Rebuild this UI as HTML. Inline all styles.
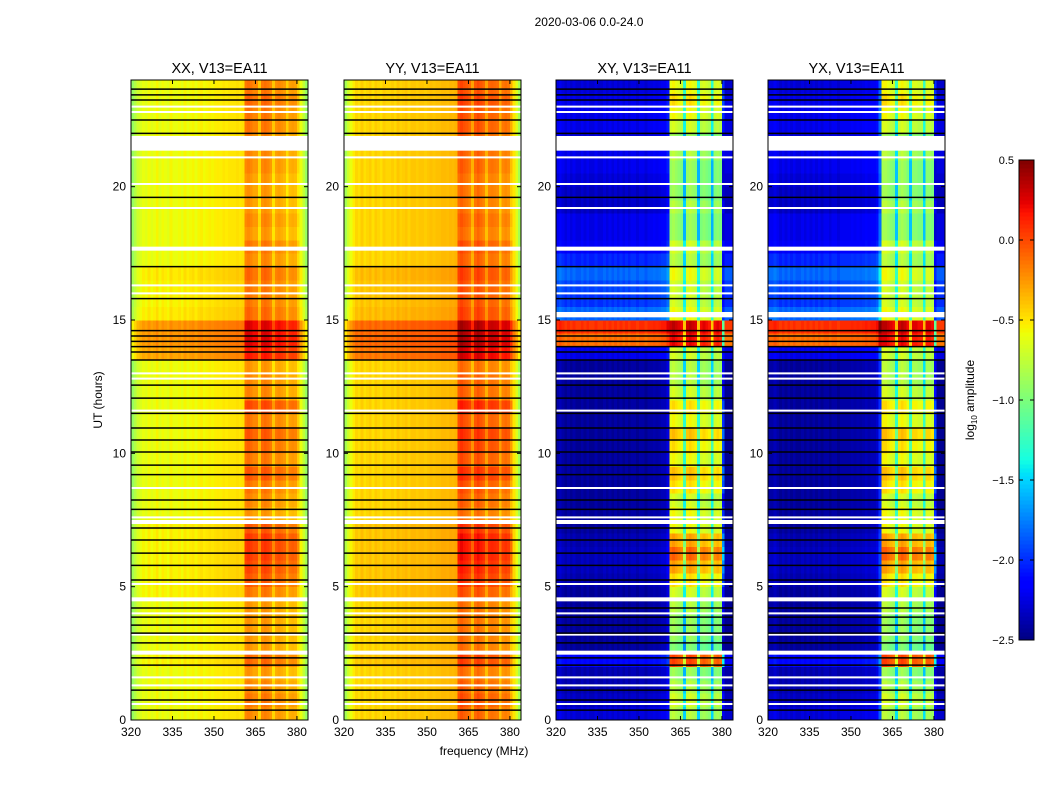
<!DOCTYPE html>
<html><head><meta charset="utf-8"><style>
body{margin:0;background:#fff;font-family:"Liberation Sans",sans-serif;}
svg text{font-family:"Liberation Sans",sans-serif;fill:#000;}
</style></head><body>
<svg id="fig" width="1050" height="800" xmlns="http://www.w3.org/2000/svg">
<rect width="1050" height="800" fill="#fff"/>
<text x="589" y="26" font-size="12" text-anchor="middle">2020-03-06 0.0-24.0</text>
<text x="484" y="755" font-size="12" text-anchor="middle">frequency (MHz)</text>
<text transform="translate(102,400) rotate(-90)" font-size="12" text-anchor="middle">UT (hours)</text>
<text transform="translate(974,400) rotate(-90)" font-size="12" text-anchor="middle">log<tspan font-size="8" dy="3">10</tspan><tspan dy="-3"> amplitude</tspan></text>
<g id="panels"></g>
<g id="cbar"></g>
</svg>
<script>
// ---- data ----
const freqStart = 320, freqStep = 1, nChan = 64;
const hourStep = 0.5;
const xTicks = [320,335,350,365,380];
const yTicks = [0,5,10,15,20];
const cbTicks = [0.5,0.0,-0.5,-1.0,-1.5,-2.0,-2.5];
const cbTickLabels = ["0.5","0.0","\u22120.5","\u22121.0","\u22121.5","\u22122.0","\u22122.5"];
const panelTitles = ["XX, V13=EA11","YY, V13=EA11","XY, V13=EA11","YX, V13=EA11"];
const bandMask = [0,0,0,0,0,0,0,0,0,0,0,0,0,0,0,0,0,0,0,0,0,0,0,0,0,0,0,0,0,0,0,0,
                  0,0,0,0,0,0,0,0,0,1,1,1,1,1,1,1,1,1,1,1,1,1,1,1,1,1,1,1,1,0,0,0];
const specXX = [-0.9,-0.8,-0.7,-0.65,-0.6,-0.63,-0.57,-0.63,-0.6,-0.55,-0.63,-0.57,-0.6,-0.63,-0.55,-0.6,
                -0.6,-0.57,-0.62,-0.55,-0.6,-0.57,-0.55,-0.6,-0.55,-0.53,-0.57,-0.55,-0.53,-0.55,-0.53,-0.52,
                -0.53,-0.5,-0.52,-0.5,-0.5,-0.5,-0.48,-0.5,-0.48,-0.25,-0.22,-0.25,-0.3,-0.3,-0.5,-0.25,
                -0.22,-0.25,-0.3,-0.5,-0.33,-0.3,-0.33,-0.36,-0.52,-0.38,-0.36,-0.38,-0.52,-0.6,-0.75,-0.9];
const specYY = [-0.85,-0.7,-0.6,-0.52,-0.45,-0.48,-0.42,-0.48,-0.45,-0.42,-0.48,-0.42,-0.45,-0.48,-0.42,-0.45,
                -0.45,-0.42,-0.46,-0.4,-0.44,-0.42,-0.4,-0.44,-0.4,-0.4,-0.42,-0.4,-0.4,-0.42,-0.4,-0.38,
                -0.4,-0.38,-0.38,-0.36,-0.36,-0.37,-0.35,-0.36,-0.34,-0.12,-0.08,-0.12,-0.15,-0.2,-0.38,-0.15,
                -0.1,-0.15,-0.2,-0.38,-0.2,-0.18,-0.2,-0.22,-0.42,-0.25,-0.22,-0.25,-0.42,-0.5,-0.65,-0.85];
const specXY = [-2.4,-2.35,-2.4,-2.45,-2.4,-2.45,-2.4,-2.45,-2.45,-2.4,-2.45,-2.4,-2.45,-2.45,-2.4,-2.45,
                -2.45,-2.4,-2.45,-2.4,-2.45,-2.4,-2.45,-2.4,-2.45,-2.4,-2.45,-2.4,-2.4,-2.45,-2.4,-2.4,
                -2.45,-2.4,-2.4,-2.38,-2.4,-2.38,-2.35,-2.35,-2.25,-0.9,-0.85,-0.9,-0.95,-1.0,-1.6,-0.9,
                -0.85,-0.9,-0.95,-1.6,-1.0,-0.95,-1.0,-1.05,-1.6,-1.0,-0.95,-1.0,-2.3,-2.45,-2.45,-2.45];
const specYX = [-2.4,-2.4,-2.35,-2.4,-2.45,-2.4,-2.45,-2.4,-2.45,-2.4,-2.45,-2.45,-2.4,-2.45,-2.4,-2.45,
                -2.4,-2.45,-2.4,-2.45,-2.4,-2.4,-2.45,-2.4,-2.4,-2.45,-2.4,-2.4,-2.4,-2.4,-2.38,-2.4,
                -2.38,-2.4,-2.38,-2.35,-2.38,-2.35,-2.35,-2.3,-2.0,-0.85,-0.85,-0.9,-0.95,-1.0,-1.55,-0.9,
                -0.85,-0.9,-1.0,-1.55,-0.95,-0.95,-1.0,-1.0,-1.55,-0.95,-0.95,-1.0,-2.3,-2.45,-2.45,-2.45];
const parOff  = [0,0,0,0, 0.05, 0,0,0,0, 0.05,0.05,0.05,0.05,0.05,0.05, 0,0,0,0,0,0,0,0,0,0,0,0, 0.3,0.35,0.35, 0.08,0.05,0.05,0.08, 0,0,0,0,0,0,0,0,0, 0,0,0,0,0];
const parBand = [0.05,0.1,0.05,0, 0.15, 0,0,0,0, 0.1,0.2,0.25,0.3,0.3,0.2, 0,0.05,0.1,0.2,0.1,0.15,0.2,0.1,0.25,0.05,0.05,0, 0.4,0.5,0.5, 0.15,0.1,0.1,0.15, 0.05,0.1,0,0.05,0,0,0,0.05,0.05, 0.05,0.1,0.1,0.15,0.1];
const crossOff  = [0.15,0.1,0.05,0.05, 0.3, 0,0,0,0, 0,0.05,0.08,0.08,0.05,0, 0,0,0,0,0,0,0,0,0,0,0,0, 0.2,2.3,2.5, 0.6,0.45,0.5,0.6, 0.4,0.25,0.2,0.2,0.1,0.1,0.15,0.2,0.2, 0.15,0.2,0.2,0.2,0.15];
const crossBand = [0.1,0.2,0.1,0, 0.9, -0.1,0,0,0.1, 0.2,0.4,0.6,0.8,0.6,0.3, 0.3,0.2,0.4,0.5,0.3,0.4,0.5,0.3,0.4,0.2,0.1,0.1, 0.2,1.1,1.2, 0.3,0.2,0.2,0.3, 0.1,0.2,0,0,0.1,0,0,0,0.1, 0,0.2,0.3,0.4,0.3];
const whiteBands = [[21.35,21.9],[7.35,7.5],[4.45,4.6],[2.45,2.6],[17.6,17.75]];
const crossWhiteBands = [[15.1,15.3]];
const whiteLines = [23.0,20.1,19.2,16.0,16.3,13.0,12.8,11.6,8.7,7.6,5.1,4.0,3.2,1.6,1.3,0.6,21.1,22.8];
const blackLines = [23.66,23.44,23.25,22.5,22.0,19.6,17.0,15.8,14.6,14.4,14.2,14.0,13.8,13.5,12.56,12.07,11.5,10.95,10.5,10.05,9.56,9.2,8.25,7.9,7.2,6.75,6.26,5.8,5.25,4.2,3.86,3.56,3.26,2.89,2.33,2.06,1.12,0.75,0.37];

const panelX = [131,344,556,768];
const specs = [specXX,specYY,specXY,specYX];
const NS="http://www.w3.org/2000/svg";
const pTop=80, pBot=720, pw=177;
const jetR=[[0,0],[0.35,0],[0.66,1],[0.89,1],[1,0.5]];
const jetG=[[0,0],[0.125,0],[0.375,1],[0.64,1],[0.91,0],[1,0]];
const jetB=[[0,0.5],[0.11,1],[0.34,1],[0.65,0],[1,0]];
function seg(s,t){for(let i=1;i<s.length;i++){if(t<=s[i][0]){const a=s[i-1],b=s[i];return a[1]+(b[1]-a[1])*(t-a[0])/(b[0]-a[0]);}}return s[s.length-1][1];}
function jet(v){
  let t=(v+2.5)/3; t=Math.max(0,Math.min(1,t));
  const c=x=>Math.round(255*Math.max(0,Math.min(1,x)));
  return `rgb(${c(seg(jetR,t))},${c(seg(jetG,t))},${c(seg(jetB,t))})`;
}
function mk(tag,attrs,parent){const e=document.createElementNS(NS,tag);for(const k in attrs)e.setAttribute(k,attrs[k]);parent.appendChild(e);return e;}
const yS=h=>pBot-(h/24)*(pBot-pTop);
const root=document.getElementById('panels');
panelX.forEach((x0,p)=>{
  const xS=f=>x0+(f-freqStart)*pw/(nChan*freqStep);
  const g=mk('g',{},root);
  
  
  const hm=mk('g',{'shape-rendering':'crispEdges'},g);
  
  
  const cross=p>=2, spec=specs[p];
  const off=cross?crossOff:parOff, band=cross?crossBand:parBand;
  for(let r=0;r<off.length;r++){
    const h0=r*hourStep;
    for(let c=0;c<nChan;c++){
      const f0=freqStart+c*freqStep;
      const v=spec[c]+(bandMask[c]?band[r]:off[r]);
      const x1=xS(f0),x2=xS(f0+freqStep),y1=yS(h0+hourStep),y2=yS(h0);
      const cell=mk('rect',{x:x1.toFixed(2),y:y1.toFixed(2),width:(x2-x1+0.4).toFixed(2),height:(y2-y1+0.4).toFixed(2),fill:jet(v)},hm);
      
      
    }
  }
  const wb=cross?whiteBands.concat(crossWhiteBands):whiteBands;
  wb.forEach(b=>{const e=mk('rect',{x:x0,y:yS(b[1]),width:pw,height:yS(b[0])-yS(b[1]),fill:'#fff'},g);
    
    });
  whiteLines.forEach(h=>{const e=mk('line',{x1:x0,x2:x0+pw,y1:yS(h),y2:yS(h),stroke:'#fff','stroke-width':2},g);
    
    });
  blackLines.forEach(h=>{const e=mk('line',{x1:x0,x2:x0+pw,y1:yS(h),y2:yS(h),stroke:'#000','stroke-width':1.5},g);
    
    });
  const fr=mk('rect',{x:x0,y:pTop,width:pw,height:pBot-pTop,fill:'none',stroke:'#000','stroke-width':1},g);
  
  
  xTicks.forEach(f=>{const x=xS(f);
    mk('line',{x1:x,x2:x,y1:pBot,y2:pBot-4,stroke:'#000'},g);
    mk('line',{x1:x,x2:x,y1:pTop,y2:pTop+4,stroke:'#000'},g);
    const t=mk('text',{x:x,y:pBot+16,'font-size':12,'text-anchor':'middle'},g);t.textContent=f;
    
    });
  yTicks.forEach(h=>{const y=yS(h);
    mk('line',{x1:x0,x2:x0+4,y1:y,y2:y,stroke:'#000'},g);
    mk('line',{x1:x0+pw,x2:x0+pw-4,y1:y,y2:y,stroke:'#000'},g);
    const t=mk('text',{x:x0-5,y:y+4,'font-size':12,'text-anchor':'end'},g);t.textContent=h;
    
    });
  const tt=mk('text',{x:x0+pw/2,y:73,'font-size':14.5,'text-anchor':'middle'},g);tt.textContent=panelTitles[p];
  
  
});
const cb=document.getElementById('cbar');
const cbX=1019,cbW=15,cbT=160,cbB=640,cbMin=-2.5,cbMax=0.5;
const cbY=v=>cbB-(v-cbMin)/(cbMax-cbMin)*(cbB-cbT);
for(let i=0;i<120;i++){const v0=cbMin+i*(cbMax-cbMin)/120,v1=cbMin+(i+1)*(cbMax-cbMin)/120;
  mk('rect',{x:cbX,y:cbY(v1),width:cbW,height:cbY(v0)-cbY(v1)+0.5,fill:jet((v0+v1)/2)},cb);}
mk('rect',{x:cbX,y:cbT,width:cbW,height:cbB-cbT,fill:'none',stroke:'#000'},cb);
cbTicks.forEach((v,i)=>{const y=cbY(v);
  mk('line',{x1:cbX,x2:cbX+4,y1:y,y2:y,stroke:'#000'},cb);
  mk('line',{x1:cbX+cbW,x2:cbX+cbW-4,y1:y,y2:y,stroke:'#000'},cb);
  const t=mk('text',{x:cbX-5,y:y+4,'font-size':11,'text-anchor':'end'},cb);t.textContent=cbTickLabels[i];
  
  });
</script>
</body></html>
